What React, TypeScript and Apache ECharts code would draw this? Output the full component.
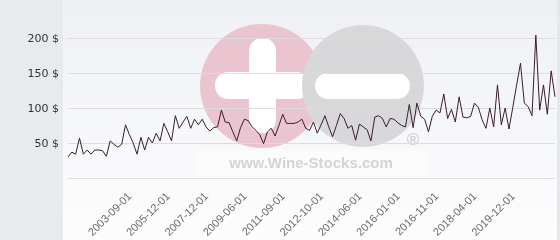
import React, { useEffect, useRef } from "react";
import * as echarts from "echarts";

const values: number[] = [
  30, 37, 34, 57, 34, 40, 34, 40, 40, 39,
  31, 53, 48, 44, 48, 76, 62, 50, 34, 58,
  40, 58, 50, 64, 53, 78, 66, 53, 89, 71,
  80, 88, 71, 84, 76, 84, 73, 67, 72, 73,
  97, 80, 79, 66, 53, 72, 84, 82, 73, 68,
  62, 49, 66, 71, 60, 75, 91, 78, 78, 78,
  80, 84, 71, 68, 80, 64, 76, 89, 73, 59,
  75, 92, 85, 71, 75, 54, 77, 73, 69, 53,
  87, 89, 85, 73, 85, 84, 79, 75, 73, 105,
  72, 107, 88, 84, 66, 88, 97, 93, 120, 85,
  98, 80, 116, 87, 86, 88, 107, 101, 83, 71,
  100, 73, 133, 76, 100, 70, 101, 133, 164, 107,
  102, 89, 204, 97, 133, 91, 153, 116,
];

// Dates shown on the x axis
const tickLabels: string[] = [
  "2003-09-01", "2005-12-01", "2007-12-01", "2009-06-01", "2011-09-01",
  "2012-10-01", "2014-06-01", "2016-01-01", "2016-11-01", "2018-04-01",
  "2019-12-01",
];
const firstLabelIndex = 16;
const labelStep = 10;

const yMin = 0;
const yMax = 200;
const yStep = 50;
const unit = " $";

export default function App() {
  const ref = useRef<HTMLDivElement>(null);

  useEffect(() => {
    if (!ref.current) return;
    const chart = echarts.init(ref.current, null, { renderer: "svg" });

    const categories = values.map((_, i) => String(i));
    const labelFor = (i: number): string => {
      const k = i - firstLabelIndex;
      if (k < 0 || k % labelStep !== 0) return "";
      return tickLabels[k / labelStep] ?? "";
    };

    chart.setOption({
      animation: false,
      graphic: [
        { type: "rect", z: -20, silent: true, shape: { x: 0, y: 0, width: 63, height: 240 }, style: { fill: "#e7ebee" } },
        {
          type: "rect", z: -20, silent: true,
          shape: { x: 63, y: 0, width: 494, height: 240 },
          style: {
            fill: new echarts.graphic.LinearGradient(0, 0, 0, 1, [
              { offset: 0, color: "#eef0f4" },
              { offset: 1, color: "#fdfdfe" },
            ]),
          },
        },
        { type: "rect", z: -20, silent: true, shape: { x: 557, y: 0, width: 3, height: 240 }, style: { fill: "#e5e8eb" } },
        { type: "rect", z: -19, silent: true, shape: { x: 196, y: 150, width: 232, height: 25 }, style: { fill: "rgba(255,255,255,0.45)" } },
        // pink circle with plus
        { type: "circle", z: -18, silent: true, shape: { cx: 262, cy: 86, r: 62 }, style: { fill: "#eac4ce" } },
        { type: "rect", z: -17, silent: true, shape: { x: 215, y: 72, width: 95, height: 27, r: 13 }, style: { fill: "#ffffff" } },
        { type: "rect", z: -17, silent: true, shape: { x: 249, y: 38, width: 27, height: 95, r: 13 }, style: { fill: "#ffffff" } },
        // grey circle with minus
        { type: "circle", z: -16, silent: true, shape: { cx: 363, cy: 86, r: 61 }, style: { fill: "#d8d8db" } },
        { type: "rect", z: -15, silent: true, shape: { x: 315, y: 73, width: 95, height: 26, r: 13 }, style: { fill: "#ffffff" } },
        {
          type: "text", z: -14, silent: true, x: 311, y: 162,
          style: { text: "www.Wine-Stocks.com", fill: "#d4d4d6", font: "bold 15px 'Liberation Sans', Arial, sans-serif", align: "center", verticalAlign: "middle" },
        },
        {
          type: "text", z: -14, silent: true, x: 413, y: 139,
          style: { text: "®", fill: "#d0d0d2", font: "bold 17px 'Liberation Sans', Arial, sans-serif", align: "center", verticalAlign: "middle" },
        },
      ],
      grid: { left: 68, right: 5, top: 38, bottom: 62, containLabel: false },
      xAxis: {
        type: "category",
        data: categories,
        boundaryGap: false,
        axisLine: { show: false },
        axisTick: { show: false },
        splitLine: { show: false },
        axisLabel: {
          interval: (i: number) => labelFor(i) !== "",
          formatter: (_v: string, i: number) => labelFor(i),
          rotate: 45,
          margin: 16,
          fontSize: 11,
          fontFamily: "'Liberation Sans', Arial, sans-serif",
          color: "#6a6a6a",
        },
      },
      yAxis: {
        type: "value",
        min: yMin,
        max: yMax,
        interval: yStep,
        axisLine: { show: false },
        axisTick: { show: false },
        splitLine: { show: true, lineStyle: { color: "#dcdcdc", width: 1 } },
        axisLabel: {
          formatter: (v: number) => (v === 0 ? "" : `${v}${unit}`),
          margin: 9,
          fontSize: 11,
          fontFamily: "'DejaVu Sans', sans-serif",
          color: "#333333",
        },
      },
      series: [
        {
          type: "line",
          data: values,
          clip: false,
          symbol: "none",
          lineStyle: { color: "#3a1d2a", width: 1 },
        },
      ],
    });

    return () => chart.dispose();
  }, []);

  return (
    <div
      ref={ref}
      style={{ position: "fixed", left: 0, top: 0, width: 560, height: 240 }}
    />
  );
}
